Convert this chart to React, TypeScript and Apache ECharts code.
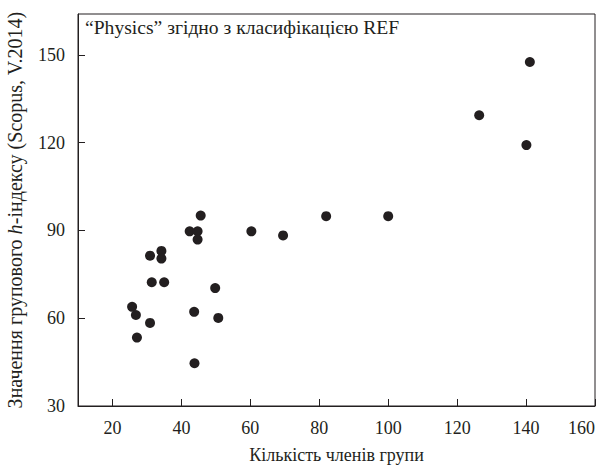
import React, { useEffect, useRef } from "react";
import * as echarts from "echarts";

const xTicks = [20, 40, 60, 80, 100, 120, 140, 160];
const yTicks = [30, 60, 90, 120, 150];

const groupSize = [141.1, 126.4, 140.1, 45.6, 42.4, 44.7, 44.7, 60.3, 34.2, 34.2, 30.9, 31.4, 35.0, 49.8, 25.7, 26.8, 43.7, 50.7, 30.9, 27.1, 43.8, 69.5, 82.0, 100.0];
const hIndex = [147.6, 129.4, 119.2, 95.1, 89.7, 89.7, 86.9, 89.7, 83.0, 80.4, 81.4, 72.3, 72.3, 70.3, 63.9, 61.1, 62.2, 60.1, 58.4, 53.4, 44.6, 88.3, 94.9, 94.9];

const titleText = "“Physics” згідно з класифікацією REF";
const xName = "Кількість членів групи";

const FONT = "'Liberation Serif', 'Times New Roman', serif";
const INK = "#231f20";

export default function App() {
  const ref = useRef<HTMLDivElement>(null);
  useEffect(() => {
    if (!ref.current) return;
    const chart = echarts.init(ref.current, null, { renderer: "svg" });
    chart.setOption({
      animation: false,
      backgroundColor: "#fff",
      textStyle: { fontFamily: FONT },
      grid: {
        left: 78,
        right: 1,
        top: 14,
        bottom: 60,
        containLabel: false,
        outerBoundsMode: "none",
        show: true,
        borderColor: INK,
        borderWidth: 1,
      },
      graphic: [
        {
          type: "text",
          left: 85,
          top: 17,
          style: { text: titleText, fontFamily: FONT, fontSize: 19.6, fill: INK },
        },
      ],
      xAxis: {
        type: "value",
        min: 10,
        max: 160,
        name: xName,
        nameLocation: "middle",
        nameGap: 40,
        nameTextStyle: { fontFamily: FONT, fontSize: 18, color: INK },
        axisLine: { show: true, lineStyle: { color: INK, width: 1 } },
        axisTick: { show: true, inside: true, length: 7, customValues: xTicks, lineStyle: { color: INK } },
        axisLabel: {
          customValues: xTicks,
          margin: 13,
          fontFamily: FONT,
          fontSize: 18,
          color: INK,
          alignMaxLabel: "right",
        },
        splitLine: { show: false },
      },
      yAxis: {
        type: "value",
        min: 30,
        max: 164,
        name: "{a|Значення групового }{i|h}{a|-індексу (Scopus, V.2014)}",
        nameLocation: "middle",
        nameGap: 53,
        nameTextStyle: {
          fontFamily: FONT,
          fontSize: 20,
          color: INK,
          rich: {
            a: { fontFamily: FONT, fontSize: 20, color: INK },
            i: { fontFamily: FONT, fontSize: 20, color: INK, fontStyle: "italic" },
          },
        },
        axisLine: { show: true, lineStyle: { color: INK, width: 1 } },
        axisTick: { show: true, inside: true, length: 7, customValues: yTicks, lineStyle: { color: INK } },
        axisLabel: {
          customValues: yTicks,
          margin: 13,
          fontFamily: FONT,
          fontSize: 18,
          color: INK,
        },
        splitLine: { show: false },
      },
      series: [
        {
          type: "scatter",
          symbol: "circle",
          symbolSize: 10,
          itemStyle: { color: INK, opacity: 1 },
          data: groupSize.map((x, i) => [x, hIndex[i]]),
        },
      ],
    });
    return () => chart.dispose();
  }, []);
  return <div ref={ref} style={{ width: 596, height: 466, position: "absolute", left: 0, top: 0 }} />;
}
